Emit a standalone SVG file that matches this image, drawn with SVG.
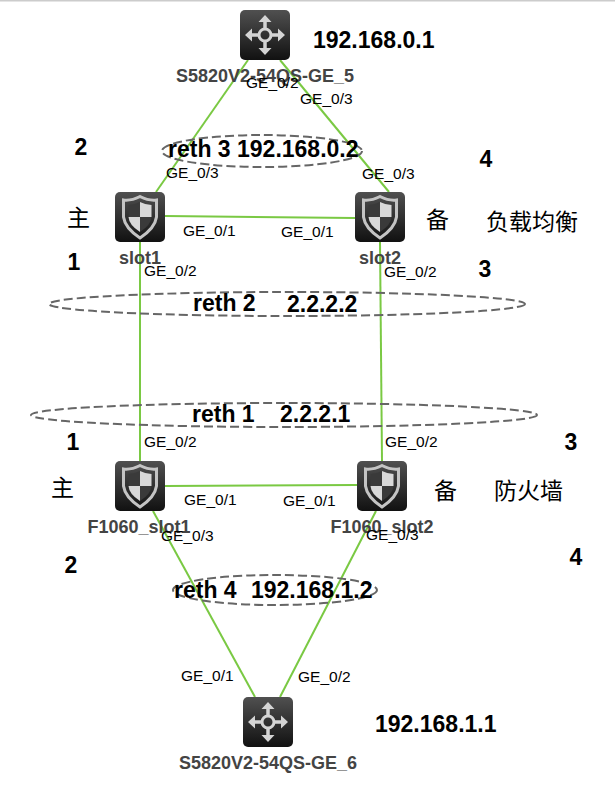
<svg xmlns="http://www.w3.org/2000/svg" xmlns:xlink="http://www.w3.org/1999/xlink" width="615" height="802" viewBox="0 0 615 802">
<style>
text{font-family:"Liberation Sans",Arial,sans-serif;fill:#000}
.ge{font-size:15.500px}
.lab{font-size:18px;font-weight:bold;fill:#444;text-anchor:middle}
.big{font-size:23px;font-weight:bold}
.num{font-size:23px;font-weight:bold;text-anchor:middle}
.cn{font-family:"Noto Sans CJK SC","Liberation Serif",serif;font-size:23px}
.link{stroke:#7ac943;stroke-width:2;fill:none}
.ring{fill:none;stroke:#666;stroke-width:2;stroke-dasharray:9 4}
</style>
<defs>
<linearGradient id="g" x1="0" y1="0" x2="0" y2="1"><stop offset="0" stop-color="#505050"/><stop offset="1" stop-color="#111"/></linearGradient>
<symbol id="sw" viewBox="0 0 50 50" width="50" height="50">
<rect width="50" height="50" rx="5" fill="url(#g)"/>
<circle cx="25" cy="25" r="6" fill="none" stroke="#d4d4d4" stroke-width="3"/>
<path d="M25 19V9M25 31V41M19 25H9M31 25H41" stroke="#d4d4d4" stroke-width="3.500"/>
<path d="M25 5L31.500 12H18.500ZM25 45L31.500 38H18.500ZM5 25L12 18.500V31.500ZM45 25L38 18.500V31.500Z" fill="#d4d4d4"/>
</symbol>
<symbol id="fw" viewBox="0 0 50 50" width="50" height="50">
<rect width="50" height="50" rx="5" fill="url(#g)"/>
<path d="M25 4.500Q34 9 41.500 8V25Q40 36 25 46Q10 36 8.500 25V8Q16 9 25 4.500Z" fill="none" stroke="#c4c4c4" stroke-width="3"/>
<path d="M25 10Q31 13 36.500 13V25H25Z" fill="#d8d8d8"/>
<path d="M25 25V40Q14 33 13.500 25Z" fill="#d8d8d8"/>
<path d="M25 10Q19 13 13.500 13V25H25ZM25 25H36.500Q36 33 25 40Z" fill="#3a3a3a"/>
</symbol>
</defs>
<rect x="0" y="0" width="615" height="1.500" fill="#ccc"/>
<g id="connectors">
<line class="link" x1="248" y1="60" x2="156" y2="192"/>
<line class="link" x1="280" y1="60" x2="389" y2="192"/>
<line class="link" x1="165" y1="216" x2="355" y2="218"/>
<line class="link" x1="140" y1="242" x2="140" y2="461"/>
<line class="link" x1="380" y1="242" x2="382" y2="461"/>
<line class="link" x1="165" y1="486" x2="357" y2="485"/>
<line class="link" x1="153" y1="511" x2="255" y2="697"/>
<line class="link" x1="376" y1="511" x2="280" y2="697"/>
</g>
<g id="rings">
<ellipse class="ring" cx="262" cy="151" rx="100" ry="16"/>
<ellipse class="ring" cx="287" cy="304" rx="238" ry="12"/>
<ellipse class="ring" cx="284" cy="415" rx="253" ry="12"/>
<ellipse class="ring" cx="275" cy="590" rx="102" ry="15"/>
</g>
<g id="node-s5">
<use href="#sw" x="240" y="10"/>
<text class="lab" x="265" y="82">S5820V2-54QS-GE_5</text>
</g>
<g id="node-slot1">
<use href="#fw" x="115" y="192"/>
<text class="lab" x="140" y="264">slot1</text>
</g>
<g id="node-slot2">
<use href="#fw" x="355" y="192"/>
<text class="lab" x="380" y="264">slot2</text>
</g>
<g id="node-f1">
<use href="#fw" x="115" y="461"/>
<text class="lab" x="139" y="533">F1060_slot1</text>
</g>
<g id="node-f2">
<use href="#fw" x="357" y="461"/>
<text class="lab" x="382" y="533">F1060_slot2</text>
</g>
<g id="node-s6">
<use href="#sw" x="243" y="697"/>
<text class="lab" x="268" y="769">S5820V2-54QS-GE_6</text>
</g>
<g id="port-labels">
<text class="ge" x="246" y="88">GE_0/2</text>
<text class="ge" x="300" y="104">GE_0/3</text>
<text class="ge" x="166" y="178">GE_0/3</text>
<text class="ge" x="362" y="179">GE_0/3</text>
<text class="ge" x="183" y="236">GE_0/1</text>
<text class="ge" x="281" y="237">GE_0/1</text>
<text class="ge" x="144" y="276">GE_0/2</text>
<text class="ge" x="384" y="277">GE_0/2</text>
<text class="ge" x="144" y="447">GE_0/2</text>
<text class="ge" x="385" y="447">GE_0/2</text>
<text class="ge" x="184" y="505">GE_0/1</text>
<text class="ge" x="283" y="506">GE_0/1</text>
<text class="ge" x="161" y="541">GE_0/3</text>
<text class="ge" x="366" y="540">GE_0/3</text>
<text class="ge" x="181" y="681">GE_0/1</text>
<text class="ge" x="298" y="682">GE_0/2</text>
</g>
<g id="annotations">
<text class="big" x="313" y="48">192.168.0.1</text>
<text class="big" x="168" y="157">reth 3 192.168.0.2</text>
<text class="big" x="193" y="311">reth 2</text>
<text class="big" x="287" y="312">2.2.2.2</text>
<text class="big" x="192" y="422">reth 1</text>
<text class="big" x="280" y="422">2.2.2.1</text>
<text class="big" x="174" y="598">reth 4</text>
<text class="big" x="251" y="598">192.168.1.2</text>
<text class="big" x="375" y="732">192.168.1.1</text>
<text class="num" x="81" y="155">2</text>
<text class="num" x="486" y="167">4</text>
<text class="num" x="74" y="270">1</text>
<text class="num" x="485" y="277">3</text>
<text class="num" x="73" y="450">1</text>
<text class="num" x="571" y="450">3</text>
<text class="num" x="71" y="573">2</text>
<text class="num" x="576" y="565">4</text>
<text class="cn" x="67" y="226">主</text>
<text class="cn" x="426" y="228">备</text>
<text class="cn" x="486" y="230">负载均衡</text>
<text class="cn" x="51" y="496">主</text>
<text class="cn" x="434" y="499">备</text>
<text class="cn" x="494" y="499">防火墙</text>
</g>
</svg>
